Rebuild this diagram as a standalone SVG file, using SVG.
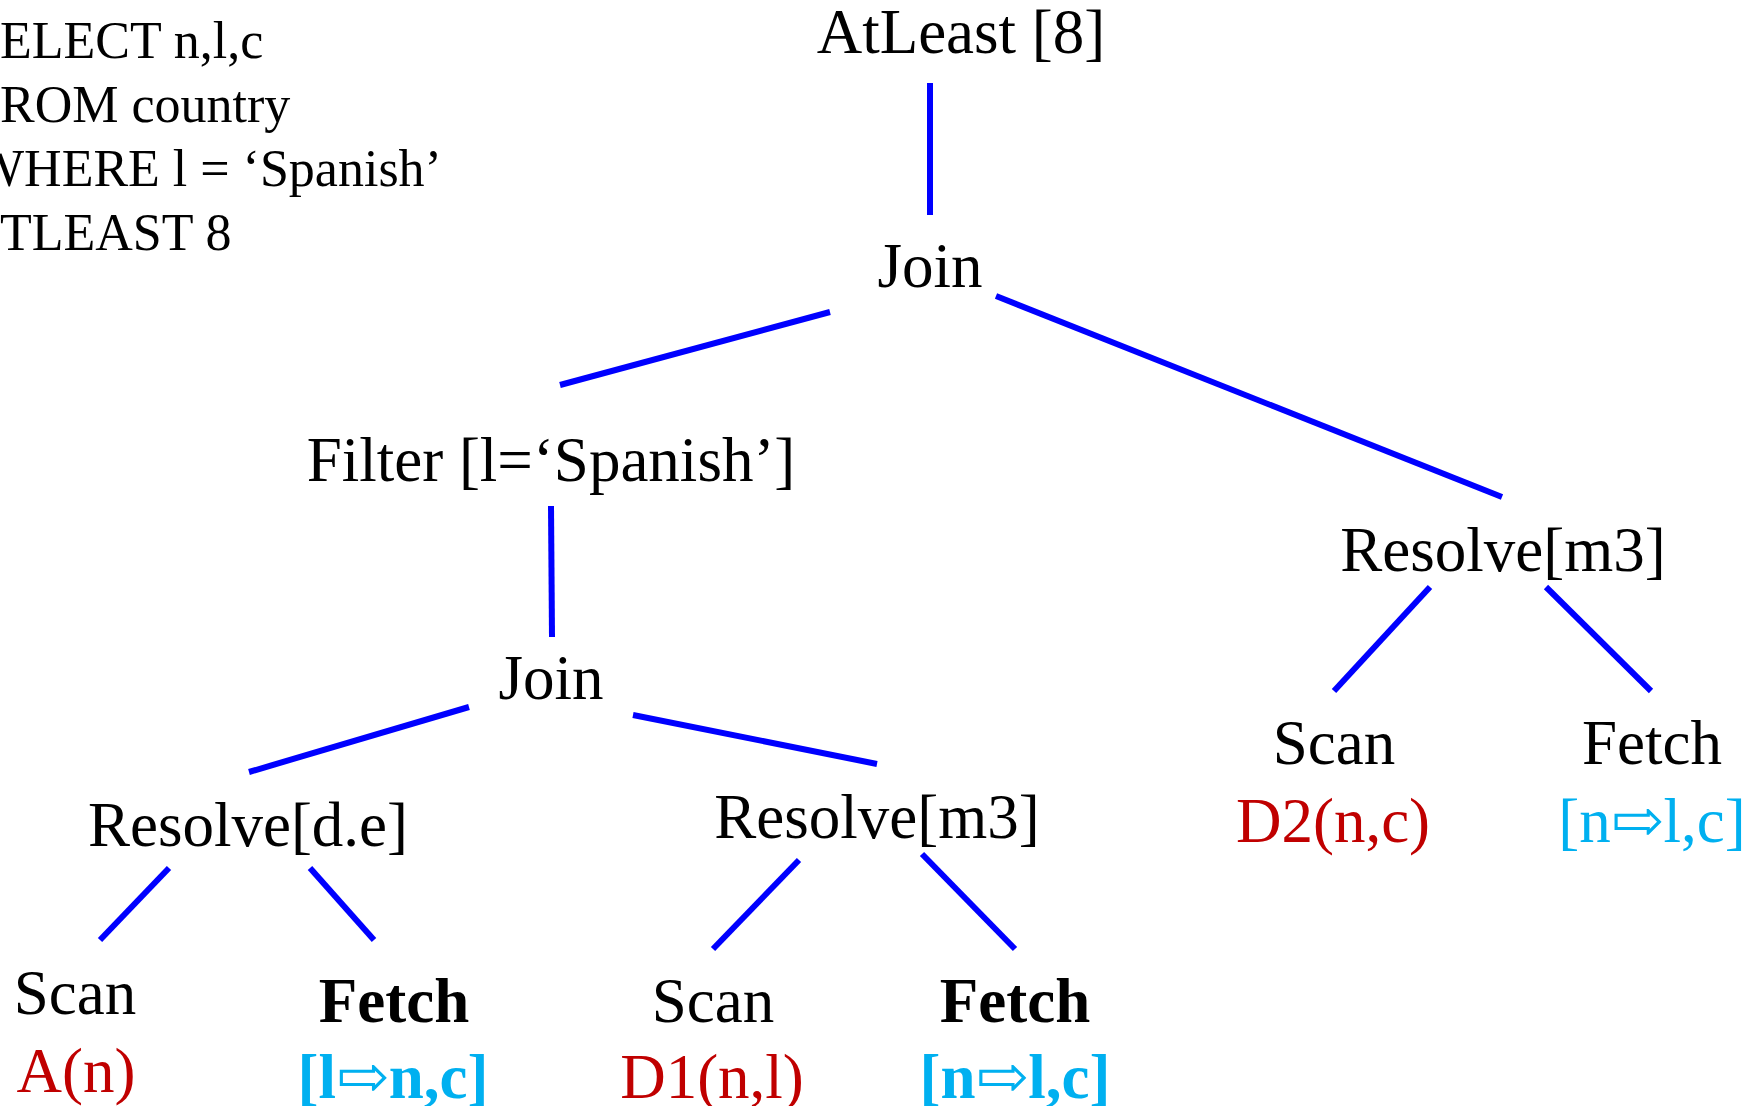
<svg xmlns="http://www.w3.org/2000/svg" width="1759" height="1106" viewBox="0 0 1759 1106">
<style>
text{font-family:"Liberation Serif","Times New Roman","DejaVu Serif",serif;fill:#000}
.q{font-size:52px}
.n{font-size:63px;text-anchor:middle}
.b{font-weight:bold}
.red{fill:#C00000}
.cy{fill:#00B0F0}
.e{stroke:#0000FF;stroke-width:6;fill:none}
</style>
<rect width="1759" height="1106" fill="#fff"/>
<g id="query">
<text class="q" x="0" y="58">ELECT n,l,c</text>
<text class="q" x="0" y="122">ROM country</text>
<text class="q" x="-25" y="186">WHERE l = ‘Spanish’</text>
<text class="q" x="0" y="250">TLEAST 8</text>
</g>
<g id="connectors">
<line class="e" x1="930" y1="83" x2="930" y2="215"/>
<line class="e" x1="830" y1="312" x2="560" y2="385"/>
<line class="e" x1="996" y1="296" x2="1502" y2="497"/>
<line class="e" x1="551" y1="506" x2="552" y2="637"/>
<line class="e" x1="469" y1="707" x2="249" y2="772"/>
<line class="e" x1="633" y1="715" x2="877" y2="764"/>
<line class="e" x1="169" y1="868" x2="100" y2="940"/>
<line class="e" x1="310" y1="868" x2="374" y2="940"/>
<line class="e" x1="799" y1="860" x2="713" y2="949"/>
<line class="e" x1="922" y1="854" x2="1015" y2="949"/>
<line class="e" x1="1430" y1="587" x2="1334" y2="691"/>
<line class="e" x1="1546" y1="587" x2="1651" y2="691"/>
</g>
<g id="atleast"><text class="n" x="961" y="53">AtLeast [8]</text></g>
<g id="join1"><text class="n" x="930" y="287">Join</text></g>
<g id="filter"><text class="n" x="551" y="481">Filter [l=‘Spanish’]</text></g>
<g id="join2"><text class="n" x="551" y="699">Join</text></g>
<g id="resolve-de"><text class="n" x="248" y="846">Resolve[d.e]</text></g>
<g id="resolve-m3-mid"><text class="n" x="877" y="838">Resolve[m3]</text></g>
<g id="resolve-m3-right"><text class="n" x="1503" y="571">Resolve[m3]</text></g>
<g id="scan-a"><text class="n" x="75" y="1014">Scan</text><text class="n red" x="76" y="1092">A(n)</text></g>
<g id="fetch-lnc"><text class="n b" x="394" y="1022">Fetch</text><text class="n b cy" x="393" y="1098">[l⇨n,c]</text></g>
<g id="scan-d1"><text class="n" x="713" y="1022">Scan</text><text class="n red" x="712" y="1098">D1(n,l)</text></g>
<g id="fetch-nlc-bold"><text class="n b" x="1015" y="1022">Fetch</text><text class="n b cy" x="1015" y="1098">[n⇨l,c]</text></g>
<g id="scan-d2"><text class="n" x="1334" y="764">Scan</text><text class="n red" x="1333" y="842">D2(n,c)</text></g>
<g id="fetch-nlc"><text class="n" x="1652" y="764">Fetch</text><text class="n cy" x="1652" y="842">[n⇨l,c]</text></g>
</svg>
